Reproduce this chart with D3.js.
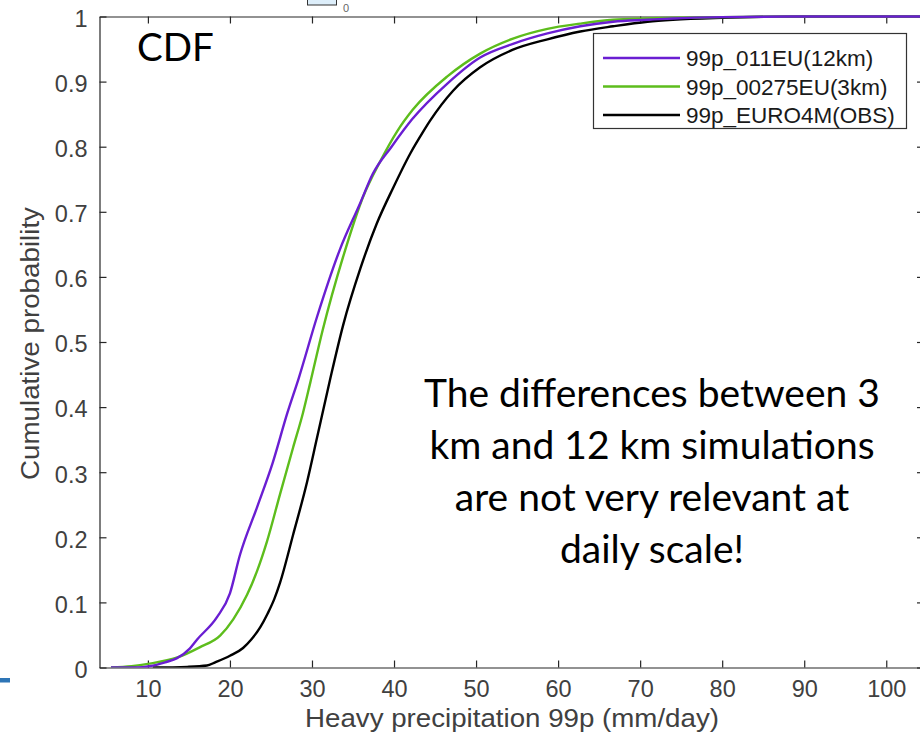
<!DOCTYPE html>
<html>
<head>
<meta charset="utf-8">
<script src="https://cdn.jsdelivr.net/npm/d3@7"></script>
<style>
  body { margin: 0; background: #fff; }
  svg { display: block; }
</style>
</head>
<body>
<div id="chart"></div>
<script>
// values (precip in mm/day, cumulative probability)
const x12km = [5.5, 8.7, 10.2, 12.1, 13.5, 15.1, 16.0, 18.4, 20.0, 21.2, 23.3, 25.2, 27.0, 28.4, 30.6, 33.4, 35.9, 37.4, 39.7, 42.2, 46.5, 50.5, 54.5, 58.7, 62.7, 66.7, 70.9, 74.0, 80, 90, 106];
const p12km = [0, 0, 0.002, 0.008, 0.014, 0.029, 0.043, 0.077, 0.114, 0.172, 0.246, 0.314, 0.391, 0.445, 0.538, 0.642, 0.714, 0.758, 0.800, 0.842, 0.897, 0.937, 0.958, 0.974, 0.985, 0.992, 0.995, 0.997, 0.999, 1, 1];

const x3km = [5.5, 8.0, 10.2, 13.5, 16.3, 18.8, 20.4, 22.1, 23.3, 24.5, 26.1, 27.7, 28.9, 29.8, 31.3, 33.8, 36.2, 38.3, 40.4, 42.3, 46.5, 50.5, 54.5, 58.7, 62.7, 66.7, 70.9, 80, 90, 106];
const p3km = [0, 0.002, 0.006, 0.015, 0.031, 0.049, 0.074, 0.112, 0.148, 0.193, 0.266, 0.338, 0.391, 0.438, 0.518, 0.631, 0.722, 0.777, 0.824, 0.857, 0.908, 0.943, 0.966, 0.981, 0.989, 0.995, 0.997, 0.999, 1, 1];

const xObs = [10.6, 14.8, 17.2, 18.2, 20.0, 21.6, 22.6, 23.7, 24.6, 25.4, 26.1, 27.7, 29.4, 30.6, 32.2, 33.8, 35.9, 37.9, 39.9, 42.0, 43.5, 44.4, 47.2, 50.5, 54.5, 58.7, 62.7, 66.7, 70.9, 74.0, 80, 90, 106];
const pObs = [0, 0.001, 0.003, 0.008, 0.018, 0.030, 0.043, 0.062, 0.083, 0.105, 0.130, 0.204, 0.285, 0.352, 0.442, 0.526, 0.613, 0.682, 0.737, 0.790, 0.822, 0.840, 0.886, 0.922, 0.949, 0.965, 0.977, 0.985, 0.992, 0.995, 0.998, 1, 1];

const seriesNames = ["99p_011EU(12km)", "99p_00275EU(3km)", "99p_EURO4M(OBS)"];
const seriesColors = ["#6a1ed2", "#5dbd1c", "#000000"];
const xTicks = [10, 20, 30, 40, 50, 60, 70, 80, 90, 100];
const yTicks = [0, 0.1, 0.2, 0.3, 0.4, 0.5, 0.6, 0.7, 0.8, 0.9, 1];
const noteLines = ["The differences between 3", "km and 12 km simulations", "are not very relevant at", "daily scale!"];

const series = [
  {name: seriesNames[0], color: seriesColors[0], pts: x12km.map((v, i) => [v, p12km[i]])},
  {name: seriesNames[1], color: seriesColors[1], pts: x3km.map((v, i) => [v, p3km[i]])},
  {name: seriesNames[2], color: seriesColors[2], pts: xObs.map((v, i) => [v, pObs[i]])}
];

const W = 920, H = 751;
const plotL = 99.5, plotR = 924, plotT = 16.5, plotB = 667.5;

const svg = d3.select("#chart").append("svg")
  .attr("width", W).attr("height", H);

const x = d3.scaleLinear().domain([4.1, 104.6]).range([plotL, plotR]);
const y = d3.scaleLinear().domain([0, 1]).range([plotB, plotT]);

// clip for the curves
svg.append("defs").append("clipPath").attr("id", "plot")
  .append("rect").attr("x", plotL).attr("y", plotT - 2)
  .attr("width", plotR - plotL).attr("height", plotB - plotT + 2);

const axisColor = "#262626";
const tickColor = "#404040";
const sans = "'Liberation Sans', Arial, sans-serif";

// bottom axis
const xAxis = svg.append("g")
  .attr("transform", "translate(0," + plotB + ")")
  .call(d3.axisBottom(x).tickValues(xTicks).tickSizeInner(-7).tickSizeOuter(0).tickPadding(18));
// left axis
const yAxis = svg.append("g")
  .attr("transform", "translate(" + plotL + ",0)")
  .call(d3.axisLeft(y).tickValues(yTicks).tickFormat(d => String(+d.toFixed(1))).tickSizeInner(-7).tickSizeOuter(0).tickPadding(12));
// top axis (ticks only)
const xTop = svg.append("g")
  .attr("transform", "translate(0," + plotT + ")")
  .call(d3.axisTop(x).tickValues(xTicks).tickSizeInner(-7).tickSizeOuter(0).tickFormat(""));
// right axis (ticks only)
const yRight = svg.append("g")
  .attr("transform", "translate(" + plotR + ",0)")
  .call(d3.axisRight(y).tickValues(yTicks).tickSizeInner(-7).tickSizeOuter(0).tickFormat(""));

[xAxis, yAxis, xTop, yRight].forEach(g => {
  g.select(".domain").attr("stroke", axisColor).attr("stroke-width", 1.2);
  g.selectAll(".tick line").attr("stroke", axisColor).attr("stroke-width", 1.2);
  g.selectAll(".tick text")
    .attr("fill", tickColor)
    .style("font-family", sans)
    .style("font-size", "23.5px");
});
xAxis.selectAll(".tick text").attr("dy", "0.5em");
yAxis.selectAll(".tick text").attr("dy", "0.42em");

// curves
const line = d3.line()
  .x(d => x(d[0]))
  .y(d => y(d[1]))
  .curve(d3.curveMonotoneX);

svg.append("g").attr("clip-path", "url(#plot)")
  .selectAll("path")
  .data(series.slice().reverse())
  .join("path")
  .attr("d", d => line(d.pts))
  .attr("fill", "none")
  .attr("stroke", d => d.color)
  .attr("stroke-width", 2.4)
  .attr("stroke-linejoin", "round");

// axis labels
svg.append("text")
  .attr("x", 305).attr("y", 727)
  .attr("textLength", 414)
  .attr("lengthAdjust", "spacingAndGlyphs")
  .attr("fill", tickColor)
  .style("font-family", sans)
  .style("font-size", "25px")
  .text("Heavy precipitation 99p (mm/day)");

svg.append("text")
  .attr("transform", "translate(39,480) rotate(-90)")
  .attr("textLength", 273)
  .attr("lengthAdjust", "spacingAndGlyphs")
  .attr("fill", tickColor)
  .style("font-family", sans)
  .style("font-size", "25px")
  .text("Cumulative probability");

// legend
const lg = svg.append("g");
lg.append("rect")
  .attr("x", 593.5).attr("y", 33.5).attr("width", 313).attr("height", 95)
  .attr("fill", "#fff").attr("stroke", "#333").attr("stroke-width", 1.2);
series.forEach((s, i) => {
  const ly = 58 + i * 28.5;
  lg.append("line")
    .attr("x1", 603).attr("x2", 680).attr("y1", ly).attr("y2", ly)
    .attr("stroke", s.color).attr("stroke-width", 2.4);
  lg.append("text")
    .attr("x", 686).attr("y", ly + 8)
    .attr("fill", "#1a1a1a")
    .style("font-family", sans)
    .style("font-size", "22.5px")
    .text(s.name);
});

// annotations
svg.append("text")
  .attr("x", 137).attr("y", 61)
  .attr("fill", "#000")
  .style("font-family", "Lato, 'Open Sans', sans-serif")
  .style("font-size", "38.5px")
  .text("CDF");

svg.append("g").selectAll("text")
  .data(noteLines)
  .join("text")
  .attr("x", 652)
  .attr("y", (d, i) => 407 + i * 52)
  .attr("text-anchor", "middle")
  .attr("fill", "#000")
  .style("font-family", "Lato, 'Open Sans', sans-serif")
  .style("font-size", "39px")
  .text(d => d);

// slide fragments around the figure
svg.append("rect")
  .attr("x", 307.5).attr("y", -2).attr("width", 29).attr("height", 7)
  .attr("fill", "#ddeefa").attr("stroke", "#333").attr("stroke-width", 1);
svg.append("text")
  .attr("x", 343).attr("y", 12)
  .attr("fill", "#666")
  .style("font-family", sans)
  .style("font-size", "11px")
  .text("0");
svg.append("rect")
  .attr("x", 0).attr("y", 678).attr("width", 10).attr("height", 4.5)
  .attr("fill", "#2e75b6");
</script>
</body>
</html>
